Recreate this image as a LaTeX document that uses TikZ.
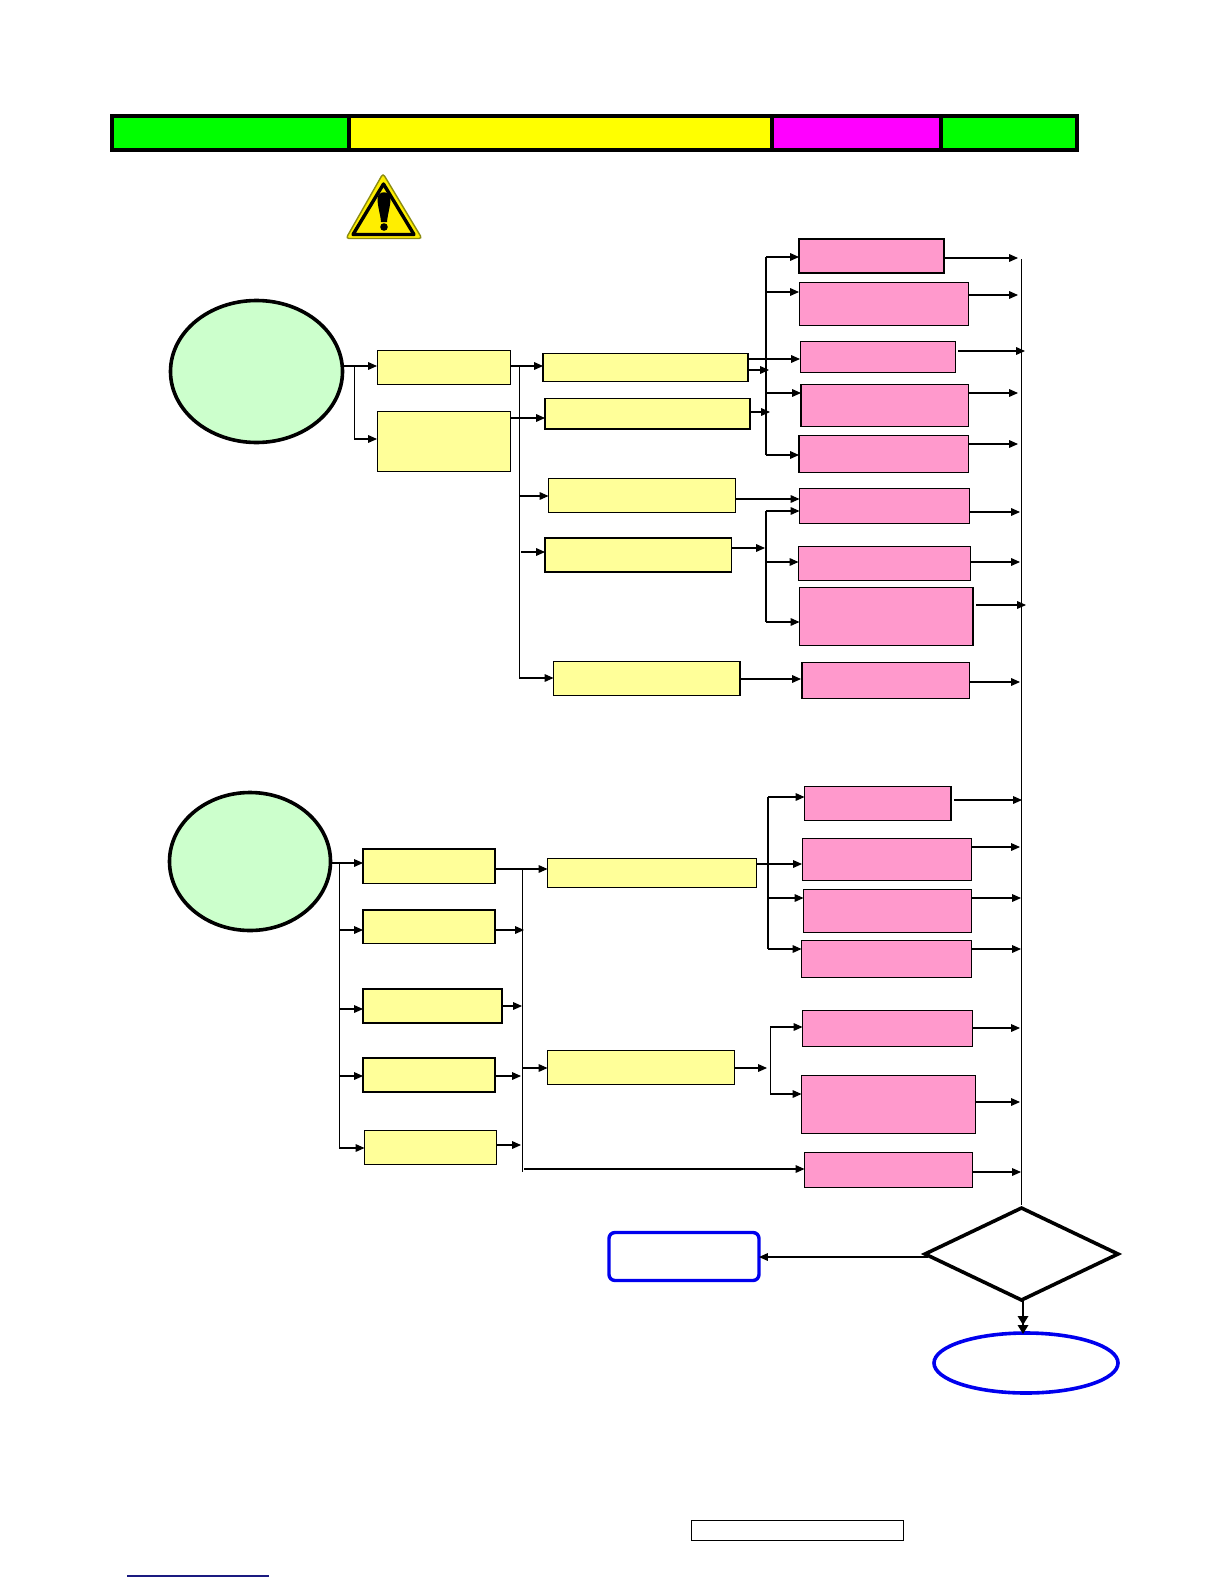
\documentclass[tikz,border=0pt]{standalone}
\usetikzlibrary{arrows.meta,shapes.geometric}
\definecolor{boxyellow}{HTML}{FFFF99}
\definecolor{boxpink}{HTML}{FF99CC}
\definecolor{boxgreen}{HTML}{CCFFCC}
\definecolor{endblue}{HTML}{0000EE}
\definecolor{signyellow}{HTML}{FFEE00}
\definecolor{signedge}{HTML}{8C8C10}
\definecolor{linknavy}{HTML}{1A1A80}
\definecolor{bargreen}{RGB}{0,255,0}
\definecolor{baryellow}{RGB}{255,255,0}
\definecolor{barmagenta}{RGB}{255,0,255}
\newcommand{\bx}[6]{%
  \pgfmathsetmacro{\bxw}{(#5-#3)*0.5}\pgfmathsetmacro{\bxh}{(#6-#4)*0.5}%
  \node[#2,minimum width=\bxw pt,minimum height=\bxh pt] (#1) at ({(#3+#5)/2},{(#4+#6)/2}) {};}
\tikzset{
  plain/.style={draw=black,line width=0.5pt,inner sep=0pt,outer sep=0pt,rectangle},
  ybox/.style={plain,fill=boxyellow},
  pbox/.style={plain,fill=boxpink},
  thk/.style={line width=0.85pt},
  oval/.style={ellipse,draw=black,fill=boxgreen,line width=1.8pt,inner sep=0pt,outer sep=0pt},
  barcell/.style={inner sep=0pt,outer sep=0pt,rectangle},
  conn/.style={draw=black,line width=0.55pt,-{Triangle[length=4.4pt,width=3.8pt]}},
  rail/.style={draw=black,line width=0.5pt},
  thickrail/.style={draw=black,line width=0.85pt}
}
\begin{document}
\begin{tikzpicture}[x=0.5pt,y=-0.5pt]
\useasboundingbox (0,0) rectangle (1224,1584);
\fill[white] (0,0) rectangle (1224,1584);
% header bar
\bx{bar}{barcell,fill=black}{110}{114}{1079}{152}
\bx{barA}{barcell,fill=bargreen}{114}{118}{347}{148}
\bx{barB}{barcell,fill=baryellow}{351}{118}{770}{148}
\bx{barC}{barcell,fill=barmagenta}{774}{118}{939}{148}
\bx{barD}{barcell,fill=bargreen}{943}{118}{1075}{148}
% warning sign
\filldraw[fill=signyellow,draw=signedge,line width=0.7pt,rounded corners=1.5pt] (383,173.5) -- (422,238.5) -- (346,238.5) -- cycle;
\draw[black,line width=1.7pt,line join=round] (383.5,184) -- (414,234.5) -- (353,234.5) -- cycle;
\fill[black] (377.5,199) .. controls (377.5,190) and (390.5,190) .. (390.5,199) .. controls (390.5,206) and (387.5,215) .. (387,222) -- (381,222) .. controls (380.5,215) and (377.5,206) .. (377.5,199) -- cycle;
\fill[black] (384,227) circle (1.9pt);
% ovals
\node[oval,minimum width=86pt,minimum height=71pt] (e1) at (256.5,371.5) {};
\node[oval,minimum width=80.5pt,minimum height=69pt] (e2) at (250,861.5) {};
% first group, yellow
\bx{a1}{ybox}{377}{350.5}{510.5}{384.5}
\bx{a2}{ybox}{377}{411.5}{510.5}{471.5}
\bx{b1}{ybox,thk}{543}{353.5}{748}{381.5}
\bx{b2}{ybox,thk}{545}{398.5}{750}{429}
\bx{b3}{ybox,thk}{548.5}{478.5}{735.5}{512.5}
\bx{b4}{ybox,thk}{545}{538}{731.5}{572}
\bx{b5}{ybox,thk}{553.5}{661.5}{740}{695.5}
% first group, pink
\bx{p1}{pbox,thk}{799}{239}{944}{273}
\bx{p2}{pbox}{799}{282.5}{968.5}{325.5}
\bx{p3}{pbox}{800}{341.5}{955.5}{372.5}
\bx{p4}{pbox,thk}{801}{384.5}{968.5}{426.5}
\bx{p5}{pbox,thk}{799}{435.5}{968.5}{472.5}
\bx{p6}{pbox,thk}{799.5}{488.5}{969.5}{523.5}
\bx{p7}{pbox,thk}{798.5}{546.5}{970.5}{580.5}
\bx{p8}{pbox,thk}{799.5}{587.5}{973}{645.5}
\bx{p9}{pbox,thk}{802}{662.5}{969.5}{698.5}
% second group, yellow
\bx{c1}{ybox,thk}{363}{849}{495}{883.5}
\bx{c2}{ybox,thk}{363}{910}{495}{943.5}
\bx{c3}{ybox,thk}{363}{989}{502}{1023}
\bx{c4}{ybox,thk}{363}{1058}{495}{1092}
\bx{c5}{ybox}{364.5}{1130.5}{496.5}{1164.5}
\bx{b6}{ybox}{547.5}{858.5}{756.5}{887.5}
\bx{b7}{ybox}{547.5}{1050.5}{734}{1084}
% second group, pink
\bx{p10}{pbox,thk}{804.5}{786.5}{951}{820.5}
\bx{p11}{pbox}{802}{838.5}{971.5}{880.5}
\bx{p12}{pbox}{803.5}{889.5}{971.5}{932}
\bx{p13}{pbox}{801.5}{940.5}{971.5}{977}
\bx{p14}{pbox}{802.5}{1010.5}{972.5}{1046.5}
\bx{p15}{pbox}{801.5}{1075.5}{975.5}{1133.5}
\bx{p16}{pbox,thk}{804.5}{1152.5}{972.5}{1187.5}
% end symbols
\node[diamond,draw=black,fill=white,line width=1.8pt,inner sep=0pt,outer sep=0pt,minimum width=96.5pt,minimum height=46pt] (dec) at (1021.5,1254) {};
\node[rectangle,rounded corners=3pt,draw=endblue,fill=white,line width=1.7pt,inner sep=0pt,outer sep=0pt,minimum width=75pt,minimum height=24pt] (redo) at (684,1256.5) {};
\node[ellipse,draw=endblue,fill=white,line width=1.8pt,inner sep=0pt,outer sep=0pt,minimum width=92pt,minimum height=30pt] (fin) at (1026,1363) {};
% footer
\bx{foot}{plain}{691}{1520.5}{903}{1540.5}
\coordinate (lnkA) at (127,1576);
\coordinate (lnkB) at (269,1576);
\draw[linknavy,line width=0.6pt] (lnkA) -- (lnkB);
% rails
\coordinate (e1s) at (344,366);
\coordinate (e1r) at (354,366);
\coordinate (e1b) at (354,439);
\coordinate (tA0) at (519,366);
\coordinate (tA1) at (519,678);
\coordinate (tB0) at (766,257);
\coordinate (tB1) at (766,455);
\coordinate (tC0) at (766,511);
\coordinate (tC1) at (766,622);
\coordinate (tM0) at (1021,259);
\coordinate (tM1) at (1021,1205);
\coordinate (e2s) at (332,863);
\coordinate (tD0) at (339,863);
\coordinate (tD1) at (339,1148);
\coordinate (tE0) at (522,869);
\coordinate (tE1) at (522,1172);
\coordinate (tF0) at (768,797);
\coordinate (tF1) at (768,949);
\coordinate (tG0) at (770,1027);
\coordinate (tG1) at (770,1094);
\draw[rail] (e1r) -- (e1b);
\draw[rail] (tA0) -- (tA1);
\draw[thickrail] (tB0) -- (tB1);
\draw[thickrail] (tC0) -- (tC1);
\draw[rail] (tM0) -- (tM1);
\draw[rail] (tD0) -- (tD1);
\draw[rail] (tE0) -- (tE1);
\draw[thickrail] (tF0) -- (tF1);
\draw[rail] (tG0) -- (tG1);
% first group connectors
\draw[conn] (e1s) -- (a1.west |- e1s);
\draw[conn] (e1b) -- (a2.west |- e1b);
\draw[conn] (a1.east |- tA0) -- (b1.west |- tA0);
\coordinate (y418) at (519,418);
\draw[conn] (a2.east |- y418) -- (b2.west |- y418);
\coordinate (y496) at (519,496);
\draw[conn] (y496) -- (b3.west |- y496);
\coordinate (y552) at (521,552);
\draw[conn] (y552) -- (b4.west |- y552);
\coordinate (y678) at (519,678);
\draw[conn] (y678) -- (b5.west |- y678);
\draw[conn] (tB0) -- (p1.west |- tB0);
\coordinate (y292) at (765,292);
\draw[conn] (y292) -- (p2.west |- y292);
\coordinate (y359) at (748,359);
\draw[conn] (b1.east |- y359) -- (p3.west |- y359);
\coordinate (y393) at (765,393);
\draw[conn] (y393) -- (p4.west |- y393);
\draw[conn] (tB1) -- (p5.west |- tB1);
\coordinate (y370) at (769,370);
\draw[conn] (b1.east |- y370) -- (y370);
\coordinate (y412) at (770,412);
\draw[conn] (b2.east |- y412) -- (y412);
\coordinate (y499) at (799,499);
\draw[conn] (b3.east |- y499) -- (p6.west |- y499);
\coordinate (y548) at (765,548);
\draw[conn] (b4.east |- y548) -- (y548);
\draw[conn] (tC0) -- (p6.west |- tC0);
\coordinate (y562) at (766,562);
\draw[conn] (y562) -- (p7.west |- y562);
\draw[conn] (tC1) -- (p8.west |- tC1);
\coordinate (y679) at (801,679);
\draw[conn] (b5.east |- y679) -- (y679);
% first group outputs
\coordinate (o1) at (1018,258);
\draw[conn] (p1.east |- o1) -- (o1);
\coordinate (o2) at (1018,295);
\draw[conn] (p2.east |- o2) -- (o2);
\coordinate (o3s) at (958,351);
\coordinate (o3) at (1025,351);
\draw[conn] (o3s) -- (o3);
\coordinate (o4) at (1018,393);
\draw[conn] (p4.east |- o4) -- (o4);
\coordinate (o5) at (1018,444);
\draw[conn] (p5.east |- o5) -- (o5);
\coordinate (o6) at (1020,512);
\draw[conn] (p6.east |- o6) -- (o6);
\coordinate (o7) at (1020,562);
\draw[conn] (p7.east |- o7) -- (o7);
\coordinate (o8s) at (976,605);
\coordinate (o8) at (1026,605);
\draw[conn] (o8s) -- (o8);
\coordinate (o9) at (1020,682);
\draw[conn] (p9.east |- o9) -- (o9);
% second group connectors
\draw[conn] (e2s) -- (c1.west |- e2s);
\coordinate (y930) at (339,930);
\draw[conn] (y930) -- (c2.west |- y930);
\coordinate (y1009) at (339,1009);
\draw[conn] (y1009) -- (c3.west |- y1009);
\coordinate (y1076) at (339,1076);
\draw[conn] (y1076) -- (c4.west |- y1076);
\draw[conn] (tD1) -- (c5.west |- tD1);
\draw[conn] (c1.east |- tE0) -- (b6.west |- tE0);
\coordinate (r930) at (524,930);
\draw[conn] (c2.east |- r930) -- (r930);
\coordinate (r1006) at (522,1006);
\draw[conn] (c3.east |- r1006) -- (r1006);
\coordinate (r1076) at (521,1076);
\draw[conn] (c4.east |- r1076) -- (r1076);
\coordinate (r1145) at (521,1145);
\draw[conn] (c5.east |- r1145) -- (r1145);
\coordinate (r1068) at (522,1068);
\draw[conn] (r1068) -- (b7.west |- r1068);
\coordinate (r1169) at (524,1169);
\draw[conn] (r1169) -- (p16.west |- r1169);
\draw[conn] (tF0) -- (p10.west |- tF0);
\coordinate (y864) at (757,864);
\draw[conn] (b6.east |- y864) -- (p11.west |- y864);
\coordinate (y898) at (768,898);
\draw[conn] (y898) -- (p12.west |- y898);
\draw[conn] (tF1) -- (p13.west |- tF1);
\coordinate (y1068) at (767,1068);
\draw[conn] (b7.east |- y1068) -- (y1068);
\draw[conn] (tG0) -- (p14.west |- tG0);
\draw[conn] (tG1) -- (p15.west |- tG1);
% second group outputs
\coordinate (o10s) at (954,800);
\coordinate (o10) at (1022,800);
\draw[conn] (o10s) -- (o10);
\coordinate (o11) at (1020,847);
\draw[conn] (p11.east |- o11) -- (o11);
\coordinate (o12) at (1021,898);
\draw[conn] (p12.east |- o12) -- (o12);
\coordinate (o13) at (1021,949);
\draw[conn] (p13.east |- o13) -- (o13);
\coordinate (o14) at (1020,1028);
\draw[conn] (p14.east |- o14) -- (o14);
\coordinate (o15) at (1020,1102);
\draw[conn] (p15.east |- o15) -- (o15);
\coordinate (o16) at (1021,1172);
\draw[conn] (p16.east |- o16) -- (o16);
% decision connectors
\coordinate (d1) at (928,1257);
\draw[conn] (d1) -- (redo.east |- d1);
\coordinate (d2) at (1023,1301);
\coordinate (d3) at (1023,1334);
\draw[draw=black,line width=1pt,-{Triangle[length=4.5pt,width=5.2pt]Triangle[length=4.5pt,width=5.2pt]}] (d2) -- (d3);
\end{tikzpicture}
\end{document}
